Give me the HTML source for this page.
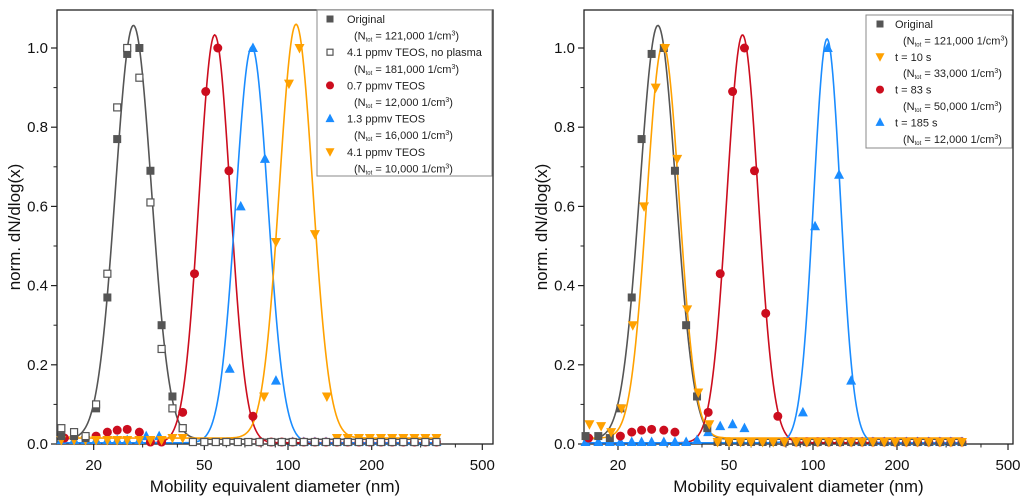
<!DOCTYPE html>
<html><head><meta charset="utf-8">
<style>
html,body{margin:0;padding:0;background:#fff;}
svg{display:block;font-family:"Liberation Sans",Arial,sans-serif;}
</style></head>
<body>
<svg id="chart" width="1024" height="501" viewBox="0 0 1024 501" xmlns="http://www.w3.org/2000/svg"></svg>
<script>
// ---- data ----
const tailD = [45.5,50,55,60,66,72,79,87,95,104,114,125,137,150,164,180,197,216,237,260,285,312,342];
const grayD = [15.3,17.0,18.7,20.4,22.4,24.3,26.4,29.2,32.0,35.1,38.4,41.8];
const origV = [0.02,0.02,0.015,0.09,0.37,0.77,0.985,1.0,0.69,0.30,0.12,0.04];
const noPlasmaV = [0.04,0.03,0.02,0.10,0.43,0.85,1.0,0.925,0.61,0.24,0.09,0.04];
const redLD = [15.7,20.4,22.4,24.3,26.4,29.2,32.0,35.1,41.8,46.1,50.6,55.9,61.3,74.8];
const redLV = [0.015,0.02,0.03,0.035,0.037,0.03,0.005,0.005,0.08,0.43,0.89,1.0,0.69,0.07];
const blueLD = [15.3,17.0,18.7,20.4,22.4,24.3,26.4,29.2,30.9,34.4,61.7,67.6,74.8,82.6,90.5];
const blueLV = [0.01,0.01,0.01,0.01,0.01,0.01,0.01,0.01,0.02,0.02,0.19,0.6,1.0,0.72,0.16];
const orangeLD = [15.3,17.0,18.7,20.4,22.4,24.3,26.4,29.2,32.0,35.1,38.4,41.8,82,90.5,100.8,110,125,138];
const orangeLV = [0.01,0.01,0.01,0.01,0.01,0.01,0.01,0.01,0.01,0.01,0.015,0.015,0.12,0.51,0.91,1.0,0.53,0.12];
const orangeRD = [15.8,17.4,18.9,20.6,22.6,24.8,27.3,29.5,32.6,35.4,38.8,42.5];
const orangeRV = [0.05,0.045,0.03,0.09,0.30,0.60,0.90,1.0,0.72,0.34,0.13,0.05];
const redRD = [15.7,20.4,22.4,24.3,26.4,29.2,32.0,42.1,46.5,51.5,56.8,61.7,67.7,74.8];
const redRV = [0.015,0.02,0.03,0.035,0.037,0.035,0.03,0.08,0.43,0.89,1.0,0.69,0.33,0.07];
const blueRD = [15.3,17.0,18.7,20.4,22.4,24.3,26.4,29.2,32.0,35.1,38.4,42.1,46.5,51.5,56.8,92,101.7,113,124,137];
const blueRV = [0.005,0.005,0.005,0.005,0.005,0.005,0.005,0.005,0.005,0.005,0.01,0.03,0.045,0.05,0.04,0.08,0.55,1.0,0.68,0.16];
// fit params: [peak diameter, amplitude, sigma(log10), offset]
const fitOrig = [27.8,1.045,0.0646,0.012];
const fitRedL = [54.5,1.03,0.056,0.003];
const fitBlueL = [74.1,1.0,0.058,0.003];
const fitOrangeL = [106.9,1.045,0.06,0.015];
const fitOrangeR = [29.0,0.995,0.058,0.015];
const fitRedR = [55.9,1.03,0.056,0.003];
const fitBlueR = [112.3,1.02,0.048,0.003];
const xTicksMajor = [20,50,100,200,500];
const xTicksMinor = [30,40,60,70,80,90,300,400];
const yTicks = [0,0.2,0.4,0.6,0.8,1.0];
const yMinor = [0.1,0.3,0.5,0.7,0.9];

const svg = document.getElementById('chart');
const NS = 'http://www.w3.org/2000/svg';
function mk(tag, attrs, parent){const e=document.createElementNS(NS,tag);for(const k in attrs)e.setAttribute(k,attrs[k]);(parent||svg).appendChild(e);return e;}
const C = {gray:'#555555', red:'#cc0d1e', blue:'#1a8cff', orange:'#ffa100'};
const Y0=444, Y1=48;
function yS(v){return Y0-(Y0-Y1)*v;}

function panel(name, L, R, c100, k){
  const g = mk('g',{});
  
  
  const xS = d => c100 + k*(Math.log10(d)-2);
  const frame = mk('rect',{x:L,y:10,width:R-L,height:Y0-10,fill:'none',stroke:'#222','stroke-width':1.3},g);
  
  
  xTicksMajor.forEach(t=>{
    const x=xS(t);
    mk('line',{x1:x,x2:x,y1:Y0,y2:Y0+6,stroke:'#222','stroke-width':1.2},g);
    const tl=mk('text',{x:x,y:Y0+26,'text-anchor':'middle','font-size':15,fill:'#111'},g);
    tl.textContent=t;
    
    
  });
  xTicksMinor.forEach(t=>{const x=xS(t);mk('line',{x1:x,x2:x,y1:Y0,y2:Y0+3.5,stroke:'#222','stroke-width':1},g);});
  yTicks.forEach(v=>{
    const y=yS(v);
    mk('line',{x1:L-6,x2:L,y1:y,y2:y,stroke:'#222','stroke-width':1.2},g);
    const tl=mk('text',{x:L-9,y:y+5,'text-anchor':'end','font-size':15,fill:'#111'},g);
    tl.textContent=v.toFixed(1);
    
    
  });
  yMinor.forEach(v=>{const y=yS(v);mk('line',{x1:L-3.5,x2:L,y1:y,y2:y,stroke:'#222','stroke-width':1},g);});
  const xt=mk('text',{x:(L+R)/2,y:492,'text-anchor':'middle','font-size':17,fill:'#111'},g);
  xt.textContent='Mobility equivalent diameter (nm)';
  
  
  const yt=mk('text',{x:0,y:0,'text-anchor':'middle','font-size':17,fill:'#111',transform:`translate(${L-37},${(Y0+10)/2}) rotate(-90)`},g);
  yt.textContent='norm. dN/dlog(x)';
  
  
  return {g,xS};
}

function curve(p, xS, fit, color, nm){
  let d='';
  for(let i=0;i<=400;i++){
    const lx=Math.log10(15.3)+i*(Math.log10(345)-Math.log10(15.3))/400;
    const v=fit[3]+fit[1]*Math.exp(-Math.pow(lx-Math.log10(fit[0]),2)/(2*fit[2]*fit[2]));
    d+=(i?'L':'M')+xS(Math.pow(10,lx)).toFixed(2)+','+yS(v).toFixed(2);
  }
  const e=mk('path',{d:d,fill:'none',stroke:color,'stroke-width':1.6},p);
  
  
}
function marker(par, type, x, y, color, s){
  s=s||4.5;
  if(type==='sq') return mk('rect',{x:x-s+0.5,y:y-s+0.5,width:2*s-1,height:2*s-1,fill:color},par);
  if(type==='osq') return mk('rect',{x:x-s+1,y:y-s+1,width:2*s-2,height:2*s-2,fill:'#fff',stroke:'#555','stroke-width':1.2},par);
  if(type==='ci') return mk('circle',{cx:x,cy:y,r:s,fill:color},par);
  if(type==='up') return mk('polygon',{points:`${x},${y-s-1} ${x-s-0.5},${y+s-0.5} ${x+s+0.5},${y+s-0.5}`,fill:color},par);
  if(type==='dn') return mk('polygon',{points:`${x},${y+s+1} ${x-s-0.5},${y-s+0.5} ${x+s+0.5},${y-s+0.5}`,fill:color},par);
}
function series(p, xS, D, V, type, color, nm, tailV){
  const g=mk('g',{},p);
  
  
  const all=D.map((d,i)=>[d,V[i]]);
  if(tailV!==undefined) tailD.forEach(d=>{ if(d>D[D.length-1]*1.05) all.push([d,tailV]); });
  all.forEach(([d,v])=>{
    const m=marker(g,type,xS(d),yS(v),color);
    
    
  });
}
function legend(x,y,w,h,entries,mx,tx,sx,step,name){
  const g=mk('g',{});
  
  
  mk('rect',{x:x,y:y,width:w,height:h,fill:'#fff',stroke:'#888','stroke-width':1},g);
  entries.forEach((e,i)=>{
    const cy=y+9+i*2*step;
    const m=marker(g,e[0],mx,cy,e[1],4);
    
    
    const t=mk('text',{x:tx,y:cy+4,'font-size':11,fill:'#222'},g);
    t.textContent=e[2];
    
    
    const t2=mk('text',{x:sx,y:cy+step+4,'font-size':11,fill:'#222'},g);
    t2.innerHTML='(N<tspan font-size="6" dy="2">tot</tspan><tspan dy="-2"> = '+e[3]+' 1/cm</tspan><tspan font-size="7" dy="-4">3</tspan><tspan dy="4">)</tspan>';
    
    
  });
}

// Left panel
const A = panel('left-panel', 57, 493, 288, 278);
curve(A.g, A.xS, fitOrig, C.gray, 'fit-original');
curve(A.g, A.xS, fitRedL, C.red, 'fit-0.7ppmv');
curve(A.g, A.xS, fitBlueL, C.blue, 'fit-1.3ppmv');
curve(A.g, A.xS, fitOrangeL, C.orange, 'fit-4.1ppmv');
series(A.g, A.xS, blueLD, blueLV, 'up', C.blue, 'series-1.3ppmv', 0.005);
series(A.g, A.xS, redLD, redLV, 'ci', C.red, 'series-0.7ppmv', 0.005);
series(A.g, A.xS, orangeLD, orangeLV, 'dn', C.orange, 'series-4.1ppmv', 0.015);
series(A.g, A.xS, grayD, origV, 'sq', C.gray, 'series-original', 0.005);
series(A.g, A.xS, grayD, noPlasmaV, 'osq', C.gray, 'series-no-plasma', 0.005);
legend(317,10,175,166,[
  ['sq',C.gray,'Original','121,000'],
  ['osq',C.gray,'4.1 ppmv TEOS, no plasma','181,000'],
  ['ci',C.red,'0.7 ppmv TEOS','12,000'],
  ['up',C.blue,'1.3 ppmv TEOS','16,000'],
  ['dn',C.orange,'4.1 ppmv TEOS','10,000']
],330,347,354,16.6,'legend-left');

// Right panel
const B = panel('right-panel', 584, 1013, 813, 279);
curve(B.g, B.xS, fitOrig, C.gray, 'fit-original');
curve(B.g, B.xS, fitOrangeR, C.orange, 'fit-t10');
curve(B.g, B.xS, fitRedR, C.red, 'fit-t83');
curve(B.g, B.xS, fitBlueR, C.blue, 'fit-t185');
series(B.g, B.xS, blueRD, blueRV, 'up', C.blue, 'series-t185', 0.005);
series(B.g, B.xS, redRD, redRV, 'ci', C.red, 'series-t83', 0.005);
series(B.g, B.xS, grayD, origV, 'sq', C.gray, 'series-original', 0.005);
series(B.g, B.xS, orangeRD, orangeRV, 'dn', C.orange, 'series-t10', 0.005);
legend(866,15,146,133,[
  ['sq',C.gray,'Original','121,000'],
  ['dn',C.orange,'t = 10 s','33,000'],
  ['ci',C.red,'t = 83 s','50,000'],
  ['up',C.blue,'t = 185 s','12,000']
],880,895,903,16.4,'legend-right');
</script>
</body></html>
